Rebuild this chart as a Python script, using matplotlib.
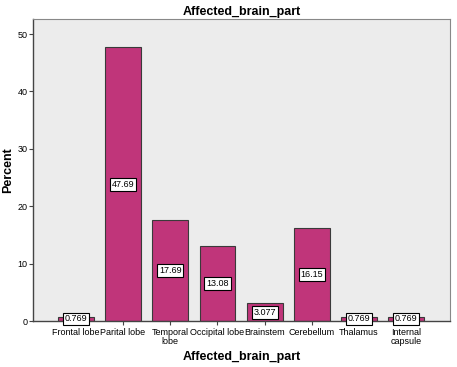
import matplotlib
matplotlib.use('Agg')
import matplotlib.pyplot as plt

plt.rcParams['font.family'] = ['Liberation Sans', 'DejaVu Sans']

# data
parts = ['Frontal lobe', 'Parital lobe', 'Temporal\nlobe', 'Occipital lobe',
         'Brainstem', 'Cerebellum', 'Thalamus', 'Internal\ncapsule']
percent = [0.769, 47.69, 17.69, 13.08, 3.077, 16.15, 0.769, 0.769]
labels = ['0.769', '47.69', '17.69', '13.08', '3.077', '16.15', '0.769', '0.769']

fig = plt.figure(figsize=(4.57, 3.67), dpi=100)
ax = fig.add_axes([0.072, 0.125, 0.913, 0.823])
ax.set_facecolor('#ececec')

x = list(range(len(parts)))
ax.bar(x, percent, width=0.76, color='#c0357a', edgecolor='#3a3a3a', linewidth=0.8, zorder=2)

# value boxes in the middle of each bar
for xi, v, lab in zip(x, percent, labels):
    ax.text(xi, v / 2, lab, ha='center', va='center', fontsize=6.5, zorder=3,
            bbox=dict(boxstyle='square,pad=0.2', facecolor='white', edgecolor='black', linewidth=0.8))

ax.set_xlim(-0.91, 7.93)
ax.set_ylim(0, 52.6)
ax.set_yticks([0, 10, 20, 30, 40, 50])
ax.set_xticks(x)
ax.set_xticklabels(parts, fontsize=6.5, linespacing=0.95)
ax.tick_params(axis='y', labelsize=6.5, length=3, width=0.8, pad=1, color='#444444')
ax.tick_params(axis='x', length=3, width=0.8, pad=2, color='#444444')

for side in ['left', 'bottom']:
    ax.spines[side].set_color('#444444')
    ax.spines[side].set_linewidth(1.0)
for side in ['top', 'right']:
    ax.spines[side].set_color('#888888')
    ax.spines[side].set_linewidth(0.8)

ax.set_title('Affected_brain_part', fontsize=9, fontweight='bold', pad=3)
ax.set_xlabel('Affected_brain_part', fontsize=9, fontweight='bold', labelpad=4)
ax.set_ylabel('Percent', fontsize=9, fontweight='bold', labelpad=2)

fig.savefig('out.png', dpi=100)
